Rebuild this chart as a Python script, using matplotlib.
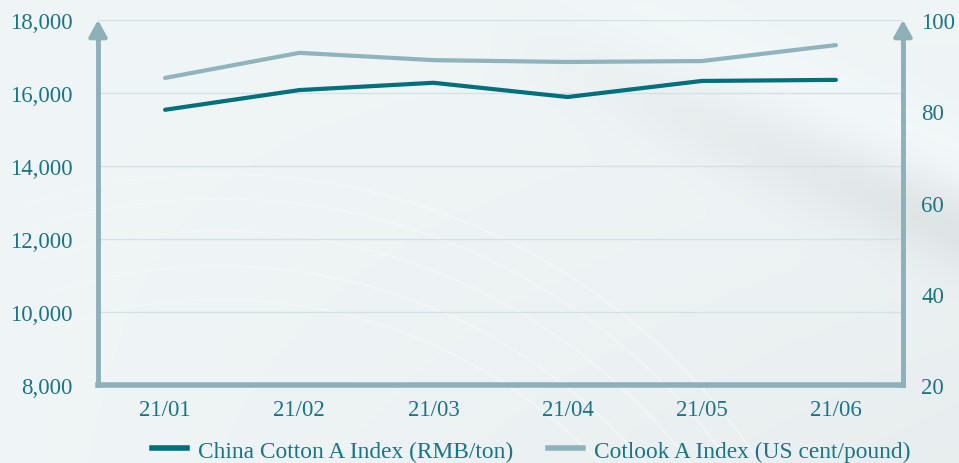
import matplotlib.pyplot as plt
import numpy as np
from matplotlib.lines import Line2D
from matplotlib.collections import LineCollection

months = ['21/01', '21/02', '21/03', '21/04', '21/05', '21/06']
china_a = [15540, 16080, 16280, 15890, 16330, 16360]
cotlook_a = [87.3, 92.8, 91.2, 90.8, 91.0, 94.5]

dark = '#00707d'
light = '#8fb4bd'
axis_col = '#8db0b9'
text_col = '#1b7584'

plt.rcParams['font.family'] = ['Liberation Serif', 'DejaVu Serif']

W, H = 959, 464
fig = plt.figure(figsize=(W / 100, H / 100), dpi=100)

# soft background, in pixel coordinates
bg = fig.add_axes([0, 0, 1, 1], zorder=-10)
gx, gy = np.meshgrid(np.linspace(0, W, 480), np.linspace(0, H, 232))
shade = 0.962 - 0.03 * (gx / W) * (gy / H)
band = np.exp(-((gy - (0.42 * gx - 170)) ** 2) / 1800.0) * np.clip((gx - 480) / 450, 0, 1)
glow = np.exp(-((gy - (0.42 * gx - 250)) ** 2) / 1500.0) * np.clip((gx - 500) / 450, 0, 1)
shade = shade - 0.05 * band + 0.02 * glow
img = np.dstack([shade - 0.022, shade - 0.002, shade + 0.004])
bg.imshow(np.clip(img, 0, 1), extent=[0, W, H, 0], aspect='auto')

# faint white arcs fading out towards the upper left
th = np.linspace(0, 0.75 * np.pi, 300)
fade = np.clip(1.0 - th / (0.75 * np.pi), 0, 1) ** 0.7 * 0.55
for bx in (600, 645, 690, 730, 760):
    r = np.hypot(bx - 220, 360)
    px = 220 + r * np.cos(th)
    py = 824 - r * np.sin(th)
    pts = np.column_stack([px, py]).reshape(-1, 1, 2)
    segs = np.concatenate([pts[:-1], pts[1:]], axis=1)
    cols = np.zeros((len(segs), 4))
    cols[:, :3] = 1.0
    cols[:, 3] = fade[:-1]
    bg.add_collection(LineCollection(segs, colors=cols, linewidths=1.3))
bg.set_xlim(0, W)
bg.set_ylim(H, 0)
bg.axis('off')

ax = fig.add_axes([98 / W, 1 - 386 / H, (903 - 98) / W, (386 - 21) / H])
ax.patch.set_alpha(0)
x = np.arange(len(months))
ax.set_xlim(-0.5, len(months) - 0.5)
ax.set_ylim(8000, 18000)
ax.set_yticks(np.arange(8000, 18001, 2000))
ax.set_yticklabels([f'{v:,}' for v in range(8000, 18001, 2000)])
ax.set_xticks(x)
ax.set_xticklabels(months)
ax.grid(axis='y', color='#d3e2e6', lw=1)
ax.tick_params(length=0, labelsize=16.5, labelcolor=text_col, pad=18)
ax.tick_params(axis='x', pad=10)
for s in ax.spines.values():
    s.set_visible(False)

ax2 = ax.twinx()
ax2.set_ylim(20, 100)
ax2.set_yticks([20, 40, 60, 80, 100])
ax2.tick_params(length=0, labelsize=16.5, labelcolor=text_col, pad=13)
for s in ax2.spines.values():
    s.set_visible(False)

ax.plot(x, china_a, color=dark, lw=3, solid_capstyle='round', zorder=3)
ax2.plot(x, cotlook_a, color=light, lw=3, solid_capstyle='round', zorder=3)

# frame: bottom line and arrowed vertical axes
ax.plot([-0.5, 5.5], [8000, 8000], color=axis_col, lw=4, clip_on=False, zorder=2)
for xa in (-0.5, 5.5):
    ax.plot([xa, xa], [8000, 17600], color=axis_col, lw=3.5, clip_on=False, zorder=2)
    ax.annotate('', xy=(xa, 18000), xytext=(xa, 17300), annotation_clip=False,
                arrowprops=dict(arrowstyle='-|>,head_length=1.0,head_width=0.55',
                                color=axis_col, lw=3, shrinkA=0, shrinkB=0))

handles = [Line2D([], [], color=dark, lw=4), Line2D([], [], color=light, lw=4)]
fig.legend(handles, ['China Cotton A Index (RMB/ton)', 'Cotlook A Index (US cent/pound)'],
           loc='center', bbox_to_anchor=(0.554, 0.026), ncol=2, frameon=False,
           fontsize=16.8, labelcolor=text_col, handlelength=1.5, columnspacing=1.5,
           handletextpad=0.45, borderpad=0)

fig.savefig('out.png', dpi=100)
